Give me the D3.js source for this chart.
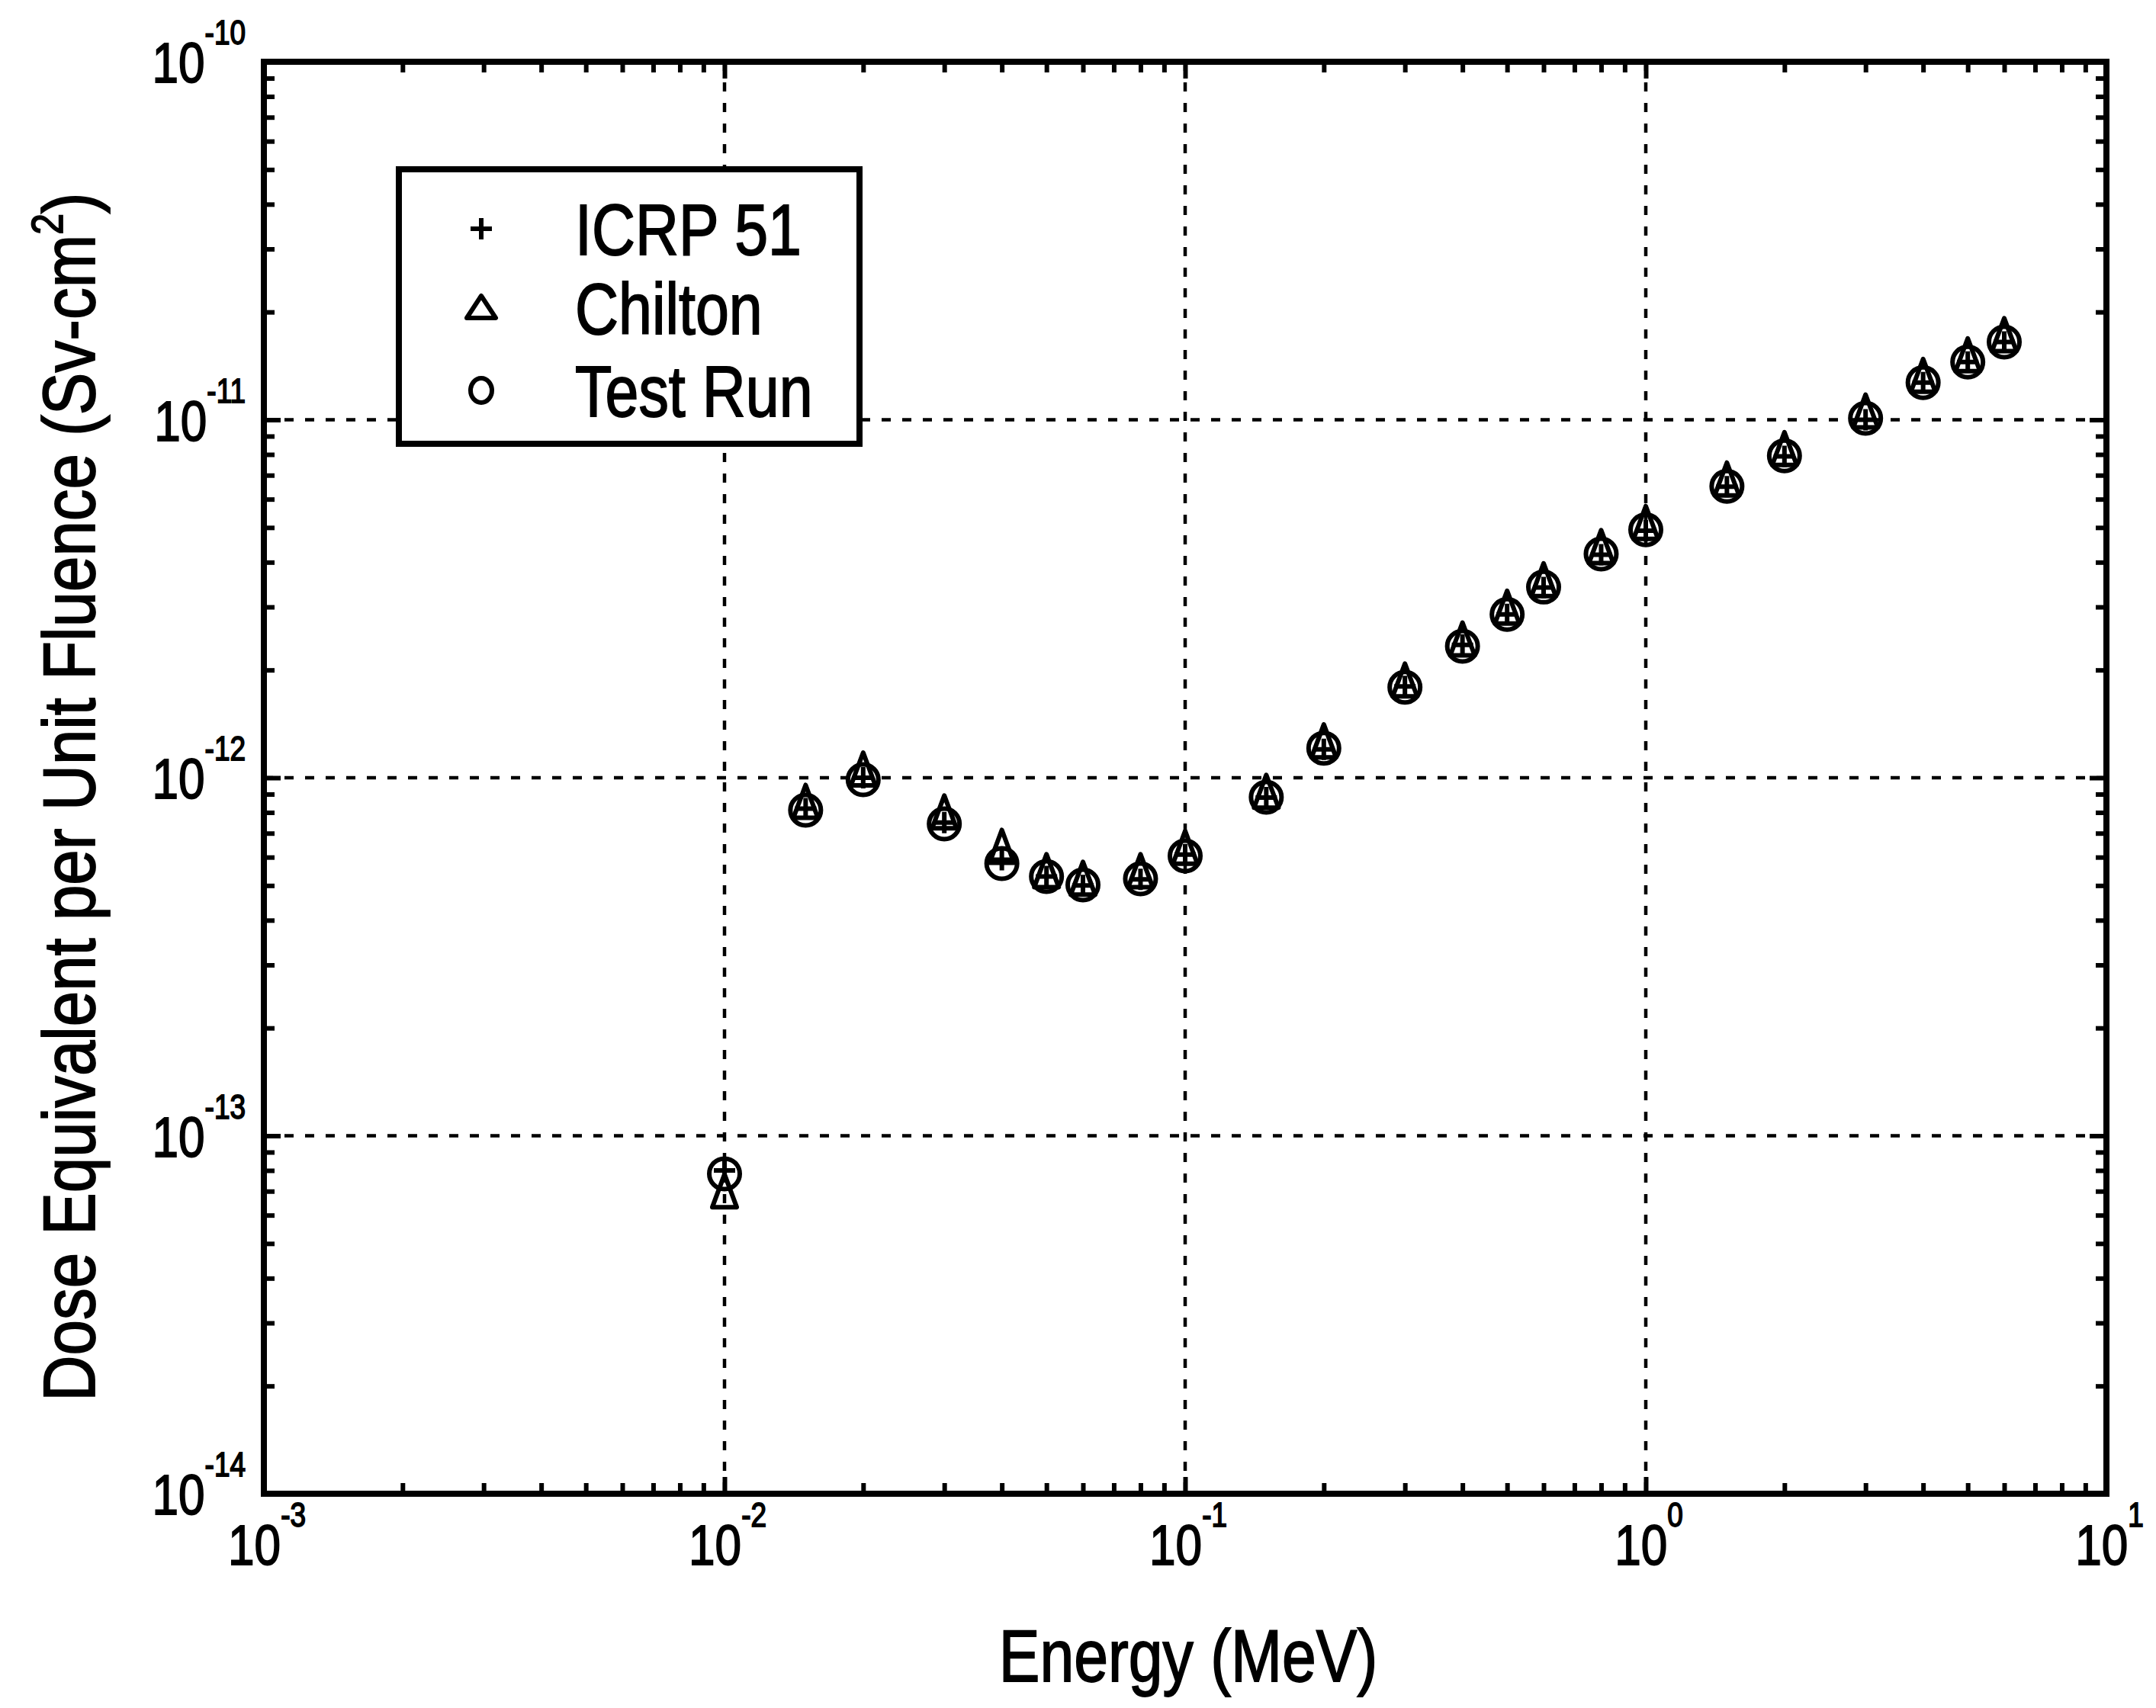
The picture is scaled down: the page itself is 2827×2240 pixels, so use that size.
<!DOCTYPE html>
<html>
<head>
<meta charset="utf-8">
<script src="https://cdn.jsdelivr.net/npm/d3@7"></script>
<style>
  html, body { margin: 0; padding: 0; background: #fff; }
  svg { display: block; }
  text { font-family: "Liberation Sans", Arial, sans-serif; fill: #000; }
</style>
</head>
<body>
<svg id="chart" width="2827" height="2240"></svg>
<script>
// Photon energies (MeV)
const energies = [0.01, 0.015, 0.02, 0.03, 0.04, 0.05, 0.06, 0.08, 0.1, 0.15, 0.2,
                  0.3, 0.4, 0.5, 0.6, 0.8, 1, 1.5, 2, 3, 4, 5, 6];

// Dose equivalent per unit fluence (Sv-cm^2)
const icrp51 = [8.0e-14, 8.2e-13, 1.0e-12, 7.5e-13, 5.9e-13, 5.3e-13, 5.0e-13, 5.2e-13, 6.1e-13,
                8.8e-13, 1.2e-12, 1.8e-12, 2.35e-12, 2.86e-12, 3.4e-12, 4.2e-12, 4.9e-12,
                6.5e-12, 7.9e-12, 1.0e-11, 1.27e-11, 1.45e-11, 1.65e-11];
const chilton = [6.7e-14, 8.2e-13, 1.01e-12, 7.66e-13, 6.14e-13, 5.25e-13, 5.0e-13, 5.25e-13, 6.1e-13,
                 8.75e-13, 1.21e-12, 1.79e-12, 2.33e-12, 2.86e-12, 3.41e-12, 4.22e-12, 4.93e-12,
                 6.52e-12, 7.93e-12, 1.01e-11, 1.27e-11, 1.45e-11, 1.65e-11];
const testRun = [7.83e-14, 8.12e-13, 9.88e-13, 7.43e-13, 5.76e-13, 5.30e-13, 5.02e-13, 5.22e-13, 6.05e-13,
                 8.82e-13, 1.21e-12, 1.79e-12, 2.33e-12, 2.86e-12, 3.41e-12, 4.22e-12, 4.93e-12,
                 6.52e-12, 7.93e-12, 1.01e-11, 1.27e-11, 1.45e-11, 1.65e-11];

// Axis decades and labels
const xDecades = [1e-3, 1e-2, 1e-1, 1e0, 1e1];
const xExponents = ["-3", "-2", "-1", "0", "1"];
const yDecades = [1e-14, 1e-13, 1e-12, 1e-11, 1e-10];
const yExponents = ["-14", "-13", "-12", "-11", "-10"];

const legendNames = ["ICRP 51", "Chilton", "Test Run"];
const xTitle = "Energy (MeV)";
const yTitleMain = "Dose Equivalent per Unit Fluence (Sv-cm";
const yTitleSup = "2";
const yTitleEnd = ")";

const plot = { left: 346, right: 2762, top: 81, bottom: 1959 };
const SX = 0.84;          // horizontal squeeze of the narrow face
const tickFont = 74, expFont = 44, titleFont = 97, legendFont = 94;

const svg = d3.select("#chart");

const x = d3.scaleLog().domain([1e-3, 1e1]).range([plot.left, plot.right]);
const y = d3.scaleLog().domain([1e-14, 1e-10]).range([plot.bottom, plot.top]);

// minor ticks 2..9 within each decade
const minorX = [], minorY = [];
for (let d = -3; d < 1; d++) for (let k = 2; k <= 9; k++) minorX.push(k * Math.pow(10, d));
for (let d = -14; d < -10; d++) for (let k = 2; k <= 9; k++) minorY.push(k * Math.pow(10, d));

// Dotted grid at the decades
const grid = svg.append("g").attr("stroke", "#000").attr("stroke-width", 4.5)
  .attr("stroke-dasharray", "12,15").attr("fill", "none");
grid.selectAll("line.gx").data(xDecades.slice(1, -1)).join("line")
  .attr("x1", d => x(d)).attr("x2", d => x(d))
  .attr("y1", plot.top).attr("y2", plot.bottom);
grid.selectAll("line.gy").data(yDecades.slice(1, -1)).join("line")
  .attr("y1", d => y(d)).attr("y2", d => y(d))
  .attr("x1", plot.left).attr("x2", plot.right);

// Inward ticks on all four sides using d3 axes
function tickAxis(axisFn, scale, values, len, transform) {
  const g = svg.append("g").attr("transform", transform)
    .call(axisFn(scale).tickValues(values).tickSize(-len).tickFormat(""));
  g.select(".domain").remove();
  g.selectAll(".tick line").attr("stroke", "#000").attr("stroke-width", 6);
}
tickAxis(d3.axisBottom, x, xDecades, 22, `translate(0,${plot.bottom})`);
tickAxis(d3.axisBottom, x, minorX, 14, `translate(0,${plot.bottom})`);
tickAxis(d3.axisTop, x, xDecades, 22, `translate(0,${plot.top})`);
tickAxis(d3.axisTop, x, minorX, 14, `translate(0,${plot.top})`);
tickAxis(d3.axisLeft, y, yDecades, 22, `translate(${plot.left},0)`);
tickAxis(d3.axisLeft, y, minorY, 14, `translate(${plot.left},0)`);
tickAxis(d3.axisRight, y, yDecades, 22, `translate(${plot.right},0)`);
tickAxis(d3.axisRight, y, minorY, 14, `translate(${plot.right},0)`);

// Frame
svg.append("rect")
  .attr("x", plot.left).attr("y", plot.top)
  .attr("width", plot.right - plot.left).attr("height", plot.bottom - plot.top)
  .attr("fill", "none").attr("stroke", "#000").attr("stroke-width", 8);

// Power-of-ten tick labels
function powLabel(g, exp, anchor) {
  const t = g.append("text").attr("text-anchor", anchor)
    .attr("font-size", tickFont).attr("stroke", "#000").attr("stroke-width", 1.8);
  t.append("tspan").text("10");
  t.append("tspan").attr("font-size", expFont).attr("dy", -50).text(exp);
}
xDecades.forEach((d, i) => {
  const g = svg.append("g").attr("transform", `translate(${x(d) + 4},${2052}) scale(${SX},1)`);
  powLabel(g, xExponents[i], "middle");
});
yDecades.forEach((d, i) => {
  const g = svg.append("g").attr("transform", `translate(${322},${y(d) + 27}) scale(${SX},1)`);
  powLabel(g, yExponents[i], "end");
});

// Axis titles
svg.append("g").attr("transform", `translate(${(plot.left + plot.right) / 2 + 4},${2205}) scale(0.83,1)`)
  .append("text").attr("text-anchor", "middle").attr("font-size", titleFont)
  .attr("stroke", "#000").attr("stroke-width", 1.8).text(xTitle);

const yt = svg.append("g").attr("transform", `translate(${124},${1045}) rotate(-90) scale(0.86,1)`)
  .append("text").attr("text-anchor", "middle").attr("font-size", titleFont)
  .attr("stroke", "#000").attr("stroke-width", 1.8);
yt.append("tspan").text(yTitleMain);
yt.append("tspan").attr("font-size", 58).attr("dy", -42).text(yTitleSup);
yt.append("tspan").attr("dy", 42).text(yTitleEnd);

// Marker shapes
const markerStroke = 6;
function drawPlus(g) {
  g.append("path").attr("d", "M-14,0H14M0,-14V14");
}
function drawTriangle(g) {
  g.append("path").attr("d", "M0,-31L16,12L-16,12Z");
}
function drawCircle(g) {
  g.append("circle").attr("r", 20);
}
// Legend keys
function keyPlus(g) {
  g.append("path").attr("d", "M-14,0H14M0,-14V14");
}
function keyTriangle(g) {
  g.append("path").attr("d", "M0,-16L19,13L-19,13Z");
}
function keyCircle(g) {
  g.append("ellipse").attr("rx", 14).attr("ry", 16);
}
const series = [
  { name: legendNames[0], values: icrp51, draw: drawPlus, key: keyPlus },
  { name: legendNames[1], values: chilton, draw: drawTriangle, key: keyTriangle },
  { name: legendNames[2], values: testRun, draw: drawCircle, key: keyCircle }
];

const marks = svg.append("g").attr("fill", "none").attr("stroke", "#000")
  .attr("stroke-width", markerStroke).attr("stroke-linejoin", "round");
series.slice().reverse().forEach(s => {
  const sg = marks.append("g");
  energies.forEach((e, i) => {
    const g = sg.append("g").attr("transform", `translate(${x(e)},${y(s.values[i])})`);
    s.draw(g);
  });
});

// Legend
const lg = svg.append("g");
lg.append("rect").attr("x", 523).attr("y", 222).attr("width", 604).attr("height", 360)
  .attr("fill", "#fff").attr("stroke", "#000").attr("stroke-width", 8);
const rowY = [300, 404, 512];
series.forEach((s, i) => {
  const mg = lg.append("g").attr("transform", `translate(${631},${rowY[i]})`)
    .attr("fill", "none").attr("stroke", "#000").attr("stroke-width", markerStroke)
    .attr("stroke-linejoin", "round");
  s.key(mg);
  lg.append("g").attr("transform", `translate(${754},${rowY[i] + 34}) scale(${SX},1)`)
    .append("text").attr("font-size", legendFont)
    .attr("stroke", "#000").attr("stroke-width", 1.8).text(s.name);
});
</script>
</body>
</html>
